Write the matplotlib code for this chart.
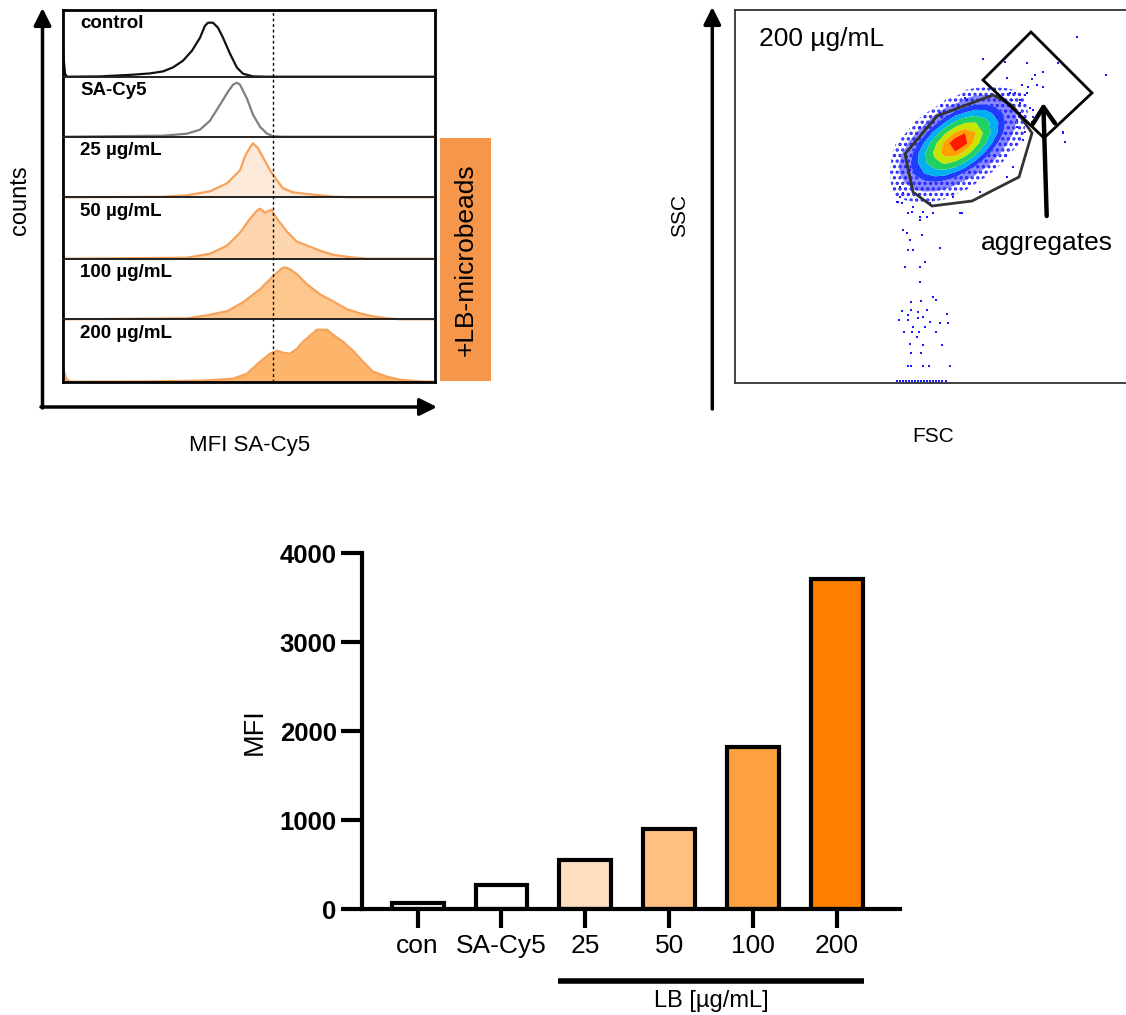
import numpy as np
import matplotlib
matplotlib.use('Agg')
import matplotlib.pyplot as plt
from matplotlib.patches import Polygon, Rectangle
import matplotlib.transforms as mtransforms

plt.rcParams['font.family'] = ['Liberation Sans', 'DejaVu Sans']
plt.rcParams['hatch.color'] = '#2222ff'
plt.rcParams['hatch.linewidth'] = 1.6

# ---------------- bar chart data ----------------
bar_labels = ['con', 'SA-Cy5', '25', '50', '100', '200']
bar_mfi = [75, 270, 555, 905, 1825, 3710]
bar_colors = ['#FFFFFF', '#FFFFFF', '#FFDFC0', '#FFC080', '#FFA040', '#FF8000']
y_ticks = [0, 1000, 2000, 3000, 4000]

# ---------------- histogram data (channel, counts) ----------------
hist_labels = ['control', 'SA-Cy5', '25 µg/mL', '50 µg/mL', '100 µg/mL', '200 µg/mL']
ctrl_x = [0, 2, 4, 37, 70, 87, 100, 110, 120, 129, 137, 142, 145, 150, 155, 160, 167, 174, 180, 190, 204, 372]
ctrl_y = [26, 3, 0, 0.3, 2, 3.3, 5.3, 9.3, 16, 26, 39, 51, 54, 54, 49, 39, 23, 9, 3, 0.3, 0, 0]
sa_x = [0, 100, 124, 137, 147, 157, 165, 170, 174, 177, 184, 190, 197, 204, 210, 220, 372]
sa_y = [0, 1, 3, 7, 16, 32, 45, 52, 54, 52, 38, 22, 10, 3, 0.5, 0, 0]
lb25_x = [0, 1.5, 3, 100, 124, 147, 164, 177, 182, 187, 190, 195, 200, 207, 214, 220, 230, 244, 257, 270, 287, 372]
lb25_y = [1.7, 0.5, 0, 0.5, 2, 6, 14, 27, 41, 50, 54, 49, 40, 27, 17, 9, 5, 3.3, 2, 0.7, 0, 0]
lb50_x = [0, 2, 124, 147, 164, 177, 187, 194, 197, 202, 208, 214, 224, 234, 247, 257, 270, 287, 304, 372]
lb50_y = [1.5, 0, 1, 5, 13, 26, 40, 48, 50, 46, 49, 40, 27, 17, 12, 8, 4, 1.5, 0, 0]
lb100_x = [0, 2, 124, 144, 164, 180, 197, 210, 219, 222, 227, 234, 244, 257, 270, 284, 297, 310, 324, 337, 372]
lb100_y = [1, 0, 1, 4, 8, 17, 30, 43, 51, 52, 50, 45, 35, 25, 18, 10, 6, 3, 1, 0, 0]
lb200_x = [0, 3, 7, 87, 137, 170, 184, 197, 207, 214, 220, 227, 234, 240, 247, 254, 264, 270, 280, 290, 300,
           310, 324, 337, 354, 370, 372]
lb200_y = [14, 3, 0, 0.3, 1, 3, 8, 20, 28, 31, 29, 28, 33, 40, 46, 52, 52, 47, 40, 31, 20, 10, 5, 2, 0.5, 0, 0]
hist_x = [ctrl_x, sa_x, lb25_x, lb50_x, lb100_x, lb200_x]
hist_y = [ctrl_y, sa_y, lb25_y, lb50_y, lb100_y, lb200_y]
hist_fill = [None, None, '#FDE9D9', '#FDD5AF', '#FDC68D', '#FDB46B']
hist_edge = ['#111111', '#7f7f7f', '#F6A25A', '#F6A25A', '#F6A25A', '#F6A25A']
mfi_threshold = 209.5

# ---------------- scatter (FSC/SSC) data ----------------
dens_fsc = [150, 160, 170, 180, 190, 200, 210, 220, 230, 240, 250, 260, 270, 280, 290, 300]
dens_ssc_top_down = [300, 290, 280, 270, 260, 250, 240, 230, 220, 210, 200, 190, 180, 170]
dens_table = [
    [0, 0, 0, 0, 0, 0, 0, 0, 0, 0, 0, 0, 0, 0, 0, 0],
    [0, 0, 0, 0, 0, 0, 0, 0, 0.5, 0.7, 0.8, 0.8, 0.7, 0.5, 0.3, 0],
    [0, 0, 0, 0, 0, 0, 0.5, 0.9, 1.4, 1.9, 2.0, 1.8, 1.3, 0.8, 0.4, 0],
    [0, 0, 0, 0, 0.3, 0.8, 1.5, 2.5, 3.3, 3.8, 3.7, 2.9, 2.0, 1.1, 0.5, 0],
    [0, 0, 0, 0.4, 0.9, 1.9, 3.3, 4.9, 6.0, 6.1, 5.2, 3.7, 2.2, 1.1, 0.4, 0],
    [0, 0.1, 0.3, 0.9, 2.0, 3.7, 5.8, 7.5, 8.2, 7.4, 5.6, 3.6, 1.9, 0.8, 0.3, 0],
    [0, 0.3, 0.7, 1.7, 3.4, 5.6, 7.7, 8.9, 8.6, 6.9, 4.7, 2.6, 1.2, 0.5, 0.2, 0],
    [0, 0.5, 1.2, 2.5, 4.4, 6.4, 7.9, 8.1, 6.9, 5.0, 3.0, 1.5, 0.6, 0.2, 0, 0],
    [0, 0.6, 1.5, 2.7, 4.3, 5.6, 6.2, 5.6, 4.3, 2.7, 1.5, 0.7, 0.2, 0, 0, 0],
    [0, 0.7, 1.4, 2.4, 3.3, 3.8, 3.7, 3.0, 2.0, 1.2, 0.55, 0.2, 0, 0, 0, 0],
    [0, 0.6, 1.0, 1.5, 1.9, 2.0, 1.7, 1.2, 0.7, 0.4, 0.1, 0, 0, 0, 0, 0],
    [0, 0.4, 0.6, 0.8, 0.85, 0.8, 0.6, 0.4, 0.25, 0, 0, 0, 0, 0, 0, 0],
    [0, 0.2, 0.25, 0.3, 0.3, 0.25, 0.2, 0.1, 0, 0, 0, 0, 0, 0, 0, 0],
    [0, 0, 0, 0, 0, 0, 0, 0, 0, 0, 0, 0, 0, 0, 0, 0],
]
sparse_fsc = [165, 166.7, 161.7, 173.3, 168.3, 178.3, 185, 191.7, 198.3, 171.7, 175, 186.7, 173.3, 178.3, 205,
              190, 170, 185, 185, 198.3, 176, 186, 200.7, 167.3, 176, 183.3, 191.7, 173.3, 183.3, 188.3, 164.3,
              173.3, 195, 205, 213.3, 212.3, 178.3, 190, 169, 176.7, 184, 201, 181.7, 175, 187.7, 206.7, 176,
              186, 173.3, 176, 187.7, 194.3, 215,
              248.3, 270, 291.7, 342.3, 371, 323.3, 308.3, 300, 296.7, 271.7, 286.7, 293.3, 308.3, 280, 290,
              285, 276.7, 295, 298.3, 328.3, 330, 285, 281.7, 290, 298.3, 230, 225,
              163, 168, 178, 185, 227, 282, 288, 292, 285, 275, 297, 302, 328, 330, 262, 278, 272, 245, 218,
              195, 175, 172, 185, 205, 232, 255, 165, 177, 188,
              162, 165, 168, 171, 174, 177, 180, 183, 186, 189, 192, 195, 198, 201, 204, 207, 211]
sparse_ssc = [186, 179.7, 181.3, 169.7, 153, 176.3, 163, 166.3, 169.7, 149.7, 143, 148, 133, 133, 134.7,
              121.3, 116.3, 116.3, 101.3, 86.3, 81.3, 82, 83, 72.3, 73, 71.3, 73, 68, 64.7, 66.3, 63,
              63, 61.3, 60.3, 60.3, 69, 56.3, 56.3, 51.3, 51.3, 51.3, 51.3, 46.3, 38.7, 38, 38, 29.7,
              29.7, 17.3, 17.3, 17.3, 17.3, 17.3,
              323.7, 321.3, 319.7, 346.3, 308, 319.7, 311.3, 308, 303.7, 304.7, 298, 295.7, 295.7, 289.7, 288,
              283, 283, 274.7, 273, 249.7, 241.3, 269.7, 263, 251.3, 266.3, 284.7, 169.7,
              181, 190, 176, 166, 170, 256, 243, 290, 280, 290, 261, 298, 251, 241, 266, 216, 206, 191, 186,
              180, 213, 226, 256, 270, 283, 286, 196, 171, 171,
              2, 2, 2, 2, 2, 2, 2, 2, 2, 2, 2, 2, 2, 2, 2, 2, 2]
gate_fsc = [170, 202, 258, 278, 297, 284, 237, 197, 178]
gate_ssc = [229, 267, 288, 277, 250, 206, 182, 177, 191]
agg_fsc = [248, 296, 357, 309]
agg_ssc = [303, 351, 290, 245]

# ---------------- figure ----------------
W, H = 1126, 1015
fig = plt.figure(figsize=(W / 100, H / 100), dpi=100)


def rect(x0, y0, x1, y1):
    return [x0 / W, 1 - y1 / H, (x1 - x0) / W, (y1 - y0) / H]


ov = fig.add_axes([0, 0, 1, 1], zorder=5)
ov.set_xlim(0, W)
ov.set_ylim(H, 0)
ov.axis('off')
ov.patch.set_alpha(0)


def arrow(x0, y0, x1, y1):
    ov.annotate('', xy=(x1, y1), xytext=(x0, y0),
                arrowprops=dict(arrowstyle='-|>', lw=2.5, color='k', mutation_scale=26,
                                shrinkA=0, shrinkB=0))


# ---------- histogram panel ----------
bounds = [10, 76.7, 136.7, 197.3, 258.7, 319.3, 381.7]
axh = fig.add_axes(rect(63, bounds[0], 435, bounds[-1]))
total = bounds[-1] - bounds[0]
axh.set_xlim(0, 372)
axh.set_ylim(0, total)
for i in range(6):
    off = bounds[-1] - bounds[i + 1]
    top = bounds[-1] - bounds[i]
    xs = np.array(hist_x[i], dtype=float)
    ys = np.array(hist_y[i], dtype=float)
    if hist_fill[i] is not None:
        axh.fill_between(xs, off, off + ys, color=hist_fill[i], lw=0, zorder=1)
    axh.plot(xs, off + ys, color=hist_edge[i], lw=1.6, zorder=2)
    if i > 0:
        axh.axhline(top, color='#222222', lw=1.4, zorder=3)
    axh.text(17, top - 14, hist_labels[i], fontsize=13.5, fontweight='bold', va='center', ha='left', zorder=4)
axh.axvline(mfi_threshold, color='k', lw=1.0, ls=(0, (2, 2)), zorder=3)
axh.set_xticks([])
axh.set_yticks([])
for s in axh.spines.values():
    s.set_linewidth(2)

arrow(42.5, 408, 42.5, 8)
arrow(41, 407, 437, 407)
ov.add_patch(Rectangle((440, 137.7), 50.7, 243.5, color='#F5964B', lw=0))
ov.text(465.3, 259.5, '+LB-microbeads', rotation=90, fontsize=19, ha='center', va='center')
ov.text(20, 200, 'counts', rotation=90, fontsize=17, ha='center', va='center')
ov.text(250, 445, 'MFI SA-Cy5', fontsize=16, ha='center', va='center')

# ---------- scatter panel ----------
axs = fig.add_axes(rect(735, 10, 1128, 383))
axs.set_xlim(0, 393)
axs.set_ylim(0, 373)
Z = np.array(dens_table[::-1])
Ys = np.array(dens_ssc_top_down[::-1])
levels = [0.35, 1.0, 2.2, 3.2, 4.5, 6.0, 7.3, 8.2, 10]
cols = [(1, 1, 1, 0), (0.15, 0.15, 1.0, 0.55), '#1f3cff', '#00b0f0', '#20d060',
        '#c8e400', '#ffa000', '#ff1a00']
hatches = ['...', '...', None, None, None, None, None, None]
axs.contourf(dens_fsc, Ys, Z, levels=levels, colors=cols, hatches=hatches, zorder=1, antialiased=True)
axs.scatter(sparse_fsc, sparse_ssc, s=4, c='#1a1aff', marker='s', lw=0, zorder=2)
axs.add_patch(Polygon(list(zip(gate_fsc, gate_ssc)), closed=True, fill=False, ec='#333333', lw=2, zorder=3))
axs.add_patch(Polygon(list(zip(agg_fsc, agg_ssc)), closed=True, fill=False, ec='k', lw=2, zorder=3))
axs.annotate('', xy=(308.3, 280), xytext=(311.7, 167),
             arrowprops=dict(arrowstyle='->,head_length=0.6,head_width=0.4', lw=3.2, color='k',
                             mutation_scale=20, shrinkA=0, shrinkB=0), zorder=4)
axs.text(311.7, 140, 'aggregates', fontsize=19, ha='center', va='center')
axs.text(24, 344, '200 µg/mL', fontsize=19, ha='left', va='center')
axs.set_xticks([])
axs.set_yticks([])
for k, s in axs.spines.items():
    s.set_linewidth(1.3)
    s.set_color('#333333')
axs.spines['right'].set_visible(False)

arrow(712.3, 409, 712.3, 7)
arrow(711, 408.3, 1127, 408.3)
ov.text(680, 215, 'SSC', rotation=90, fontsize=15, ha='center', va='center')
ov.text(933, 436, 'FSC', fontsize=15, ha='center', va='center')

# ---------- bar chart ----------
ax0, ax1 = 361.7, 900
axb = fig.add_axes(rect(ax0, 553.3, ax1, 909.3))
xpos = np.arange(len(bar_labels))
axb.bar(xpos, bar_mfi, width=0.62, color=bar_colors, edgecolor='k', linewidth=3, zorder=2)
axb.set_xlim(-0.668, 5.755)
axb.set_ylim(0, 4000)
axb.set_yticks(y_ticks)
axb.set_yticklabels([str(v) for v in y_ticks], fontsize=18.5, fontweight='bold')
axb.set_xticks(xpos)
axb.set_xticklabels(bar_labels, fontsize=19)
axb.tick_params(axis='y', width=3, length=15, direction='out', pad=3)
axb.tick_params(axis='x', width=3, length=14, direction='out', pad=4)
for k in ['top', 'right']:
    axb.spines[k].set_visible(False)
for k in ['left', 'bottom']:
    axb.spines[k].set_linewidth(3)
axb.set_ylabel('MFI', fontsize=19.5)
axb.yaxis.set_label_coords((268 - ax0) / (ax1 - ax0), 0.5)
trans = mtransforms.blended_transform_factory(axb.transData, axb.transAxes)
axb.plot([2 - 0.32, 5 + 0.32], [-0.2, -0.2], color='k', lw=4, transform=trans, clip_on=False,
         solid_capstyle='butt')
axb.text(3.5, -0.258, 'LB [µg/mL]', fontsize=17, ha='center', va='center', transform=trans)

fig.savefig('out.png', dpi=100)
